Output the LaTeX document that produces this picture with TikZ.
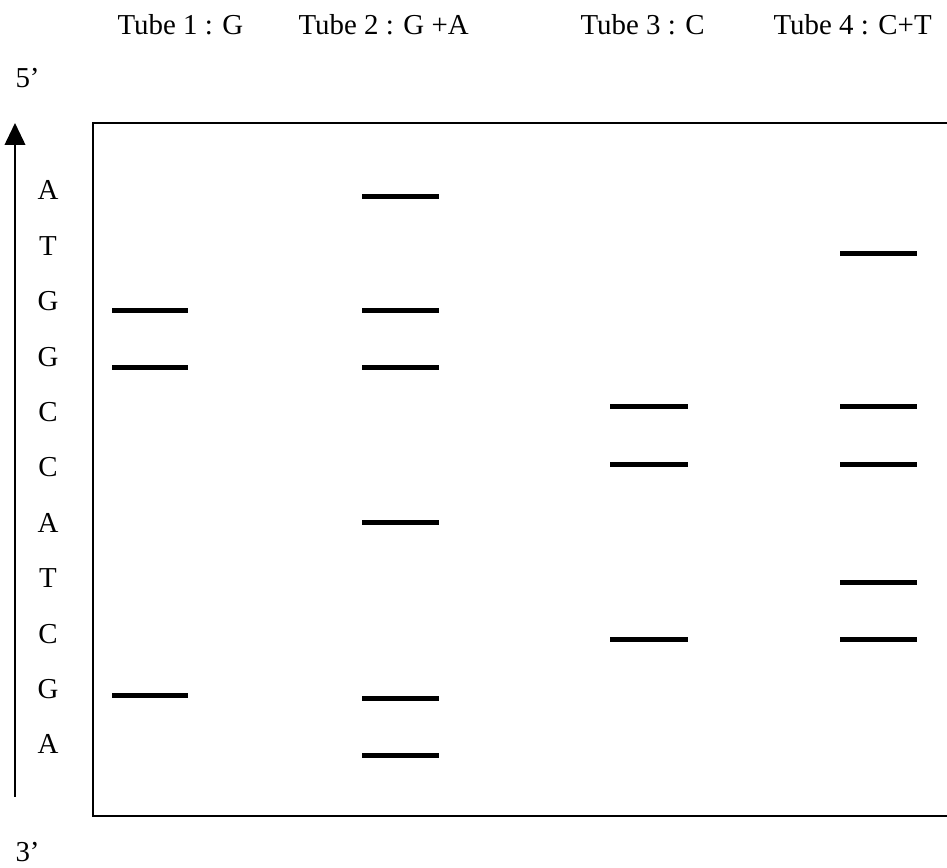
\documentclass[tikz,border=0pt]{standalone}
\usepackage{fontspec}
\setmainfont{Liberation Serif}
\usetikzlibrary{arrows.meta}

\begin{document}
\begin{tikzpicture}[x=0.36pt,y=-0.36pt,
  lbl/.style={anchor=base west,inner sep=0pt,font=\fontsize{10.4}{12}\selectfont},
  band/.style={line width=1.8pt},
  gel/.style={line width=0.85pt}]
 \useasboundingbox (0,0) rectangle (947,868);

 %Coordinates
 \coordinate (arrowstart) at (15,797);
 \coordinate (arrowend) at (15,123);

 %Name
 \node (tube1) [lbl] at (117,35) {Tube 1 : G};
 \node (tube2) [lbl] at (298,35) {Tube 2 : G +A};
 \node (tube3) [lbl] at (580,35) {Tube 3 : C};
 \node (tube4) [lbl] at (773,35) {Tube 4 : C+T};

 \node (five) [lbl] at (15,88) {5’};
 \node (three) [lbl] at (15,862) {3’};

 %Axis
 \draw[line width=0.7pt,-{Triangle[length=7.9pt,width=7.4pt]}] (arrowstart) -- (arrowend);

 %Gel
 \draw[gel] (947,123) -- (93,123) -- (93,816) -- (947,816);

 %Sequence
 \foreach \base [count=\i from 0] in {A,T,G,G,C,C,A,T,C,G,A}
  \node (base\i) [lbl,anchor=base] at (48,200+55.4*\i) {\base};

 %Bands
 \foreach \y in {311,368,696}
  \draw[band] (112,\y) -- (188,\y);
 \foreach \y in {197,311,368,523,699,756}
  \draw[band] (362,\y) -- (439,\y);
 \foreach \y in {407,465,640}
  \draw[band] (610,\y) -- (688,\y);
 \foreach \y in {254,407,465,583,640}
  \draw[band] (840,\y) -- (917,\y);

\end{tikzpicture}
\end{document}
